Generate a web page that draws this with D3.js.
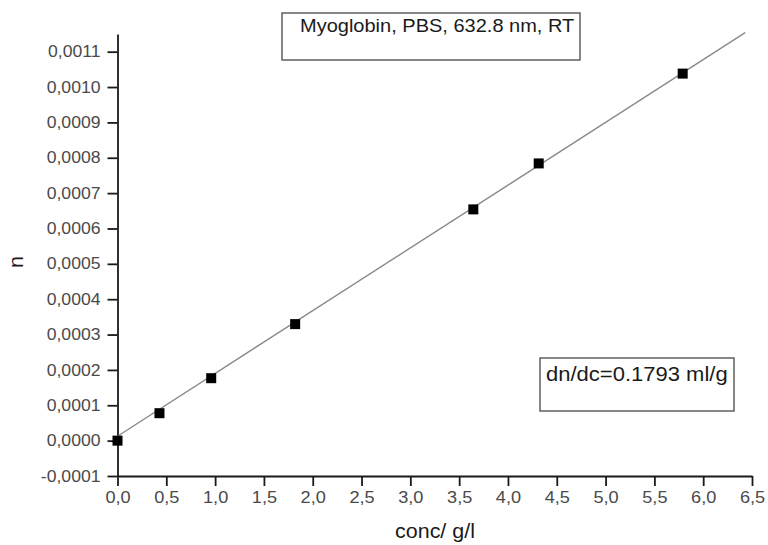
<!DOCTYPE html>
<html>
<head>
<meta charset="utf-8">
<script src="https://cdn.jsdelivr.net/npm/d3@7"></script>
<style>
  body { margin: 0; background: #fff; }
  svg { display: block; font-family: "Liberation Sans", Arial, sans-serif; }
</style>
</head>
<body>
<div id="vis"></div>
<script>
// Myoglobin refractive index increment chart

// Data
const concValues = [0, 0.43, 0.96, 1.82, 3.645, 4.315, 5.79];
const nValues = [0.0, 0.0000776, 0.0001766, 0.0003295, 0.000654, 0.000784, 0.001038];
const fitX = [0, 6.43];
const fitY = [0.0000125, 0.001154];
const xTicks = [0, 0.5, 1, 1.5, 2, 2.5, 3, 3.5, 4, 4.5, 5, 5.5, 6, 6.5];
const yTicks = [-0.0001, 0, 0.0001, 0.0002, 0.0003, 0.0004, 0.0005, 0.0006, 0.0007, 0.0008, 0.0009, 0.0010, 0.0011];
const titleText = "Myoglobin, PBS, 632.8 nm, RT";
const noteText = "dn/dc=0.1793 ml/g";

// Frame
const FRAME_WIDTH = 768;
const FRAME_HEIGHT = 545;
const MARGINS = {left: 117.5, right: 16, top: 34, bottom: 69};
const STRETCH = 1.1; // glyphs in the source look a bit wide

const svg = d3.select("#vis").append("svg")
    .attr("width", FRAME_WIDTH)
    .attr("height", FRAME_HEIGHT);

const xScale = d3.scaleLinear()
    .domain([0, 6.5])
    .range([MARGINS.left, FRAME_WIDTH - MARGINS.right]);

const yScale = d3.scaleLinear()
    .domain([-0.0001, 0.00115])
    .range([FRAME_HEIGHT - MARGINS.bottom, MARGINS.top]);

const comma = (f) => (d) => f(d).replace(".", ",").replace("−", "-");

// minor ticks halfway between the majors
const xMinor = xTicks.slice(0, -1).map((d, i) => (d + xTicks[i + 1]) / 2);
const yMinor = yTicks.map((d) => d + 0.00005);

const axisColor = "#1a1a1a";

// x axis
const xg = svg.append("g")
    .attr("transform", "translate(0," + yScale(-0.0001) + ")");
xg.call(d3.axisBottom(xScale).tickValues(xMinor).tickSize(5).tickFormat(""));
xg.call(d3.axisBottom(xScale).tickValues(xTicks).tickSize(10).tickSizeOuter(0).tickPadding(5)
    .tickFormat(comma(d3.format(".1f"))));

// y axis
const yg = svg.append("g")
    .attr("transform", "translate(" + xScale(0) + ",0)");
yg.call(d3.axisLeft(yScale).tickValues(yMinor).tickSize(5).tickFormat(""));
yg.call(d3.axisLeft(yScale).tickValues(yTicks).tickSize(10).tickSizeOuter(0).tickPadding(7)
    .tickFormat(comma(d3.format(".4f"))));

svg.selectAll(".domain").attr("stroke", axisColor).attr("stroke-width", 1.8);
svg.selectAll(".tick line").attr("stroke", axisColor).attr("stroke-width", 1.8);
xg.selectAll(".tick text").attr("font-size", 16.5).attr("fill", "#4a4a4a");
yg.selectAll(".tick text").attr("font-size", 16).attr("fill", "#4a4a4a");

// fit line
const points = concValues.map((c, i) => ({x: c, y: nValues[i]}));
const line = d3.line().x((d) => xScale(d[0])).y((d) => yScale(d[1]));
svg.append("path")
    .datum(d3.zip(fitX, fitY))
    .attr("d", line)
    .attr("fill", "none")
    .attr("stroke", "#8a8a8a")
    .attr("stroke-width", 1.4);

// data squares
svg.selectAll(".pt")
    .data(points)
    .enter()
    .append("rect")
    .attr("class", "pt")
    .attr("x", (d) => xScale(d.x) - 5)
    .attr("y", (d) => yScale(d.y) - 5)
    .attr("width", 10)
    .attr("height", 10)
    .attr("fill", "#000");

// axis titles
svg.append("text")
    .attr("x", 435)
    .attr("y", 538)
    .attr("text-anchor", "middle")
    .attr("font-size", 19.5)
    .attr("fill", axisColor)
    .text("conc/ g/l");

svg.append("text")
    .attr("transform", "translate(23,262) rotate(-90)")
    .attr("text-anchor", "middle")
    .attr("font-size", 19.5)
    .attr("fill", axisColor)
    .text("n");

// title box
svg.append("rect")
    .attr("x", 282).attr("y", 13).attr("width", 298).attr("height", 47)
    .attr("fill", "#fff").attr("stroke", "#555").attr("stroke-width", 1.4);
svg.append("text")
    .attr("x", 300).attr("y", 32)
    .attr("font-size", 18.2)
    .attr("fill", axisColor)
    .text(titleText);

// slope note box
svg.append("rect")
    .attr("x", 540).attr("y", 358).attr("width", 194).attr("height", 53)
    .attr("fill", "#fff").attr("stroke", "#555").attr("stroke-width", 1.4);
svg.append("text")
    .attr("x", 546).attr("y", 380.5)
    .attr("font-size", 20)
    .attr("fill", axisColor)
    .text(noteText);

// widen glyphs a little to match the source
svg.selectAll("text").each(function() {
    const w = this.getComputedTextLength();
    d3.select(this)
        .attr("textLength", w * STRETCH)
        .attr("lengthAdjust", "spacingAndGlyphs");
});
</script>
</body>
</html>
